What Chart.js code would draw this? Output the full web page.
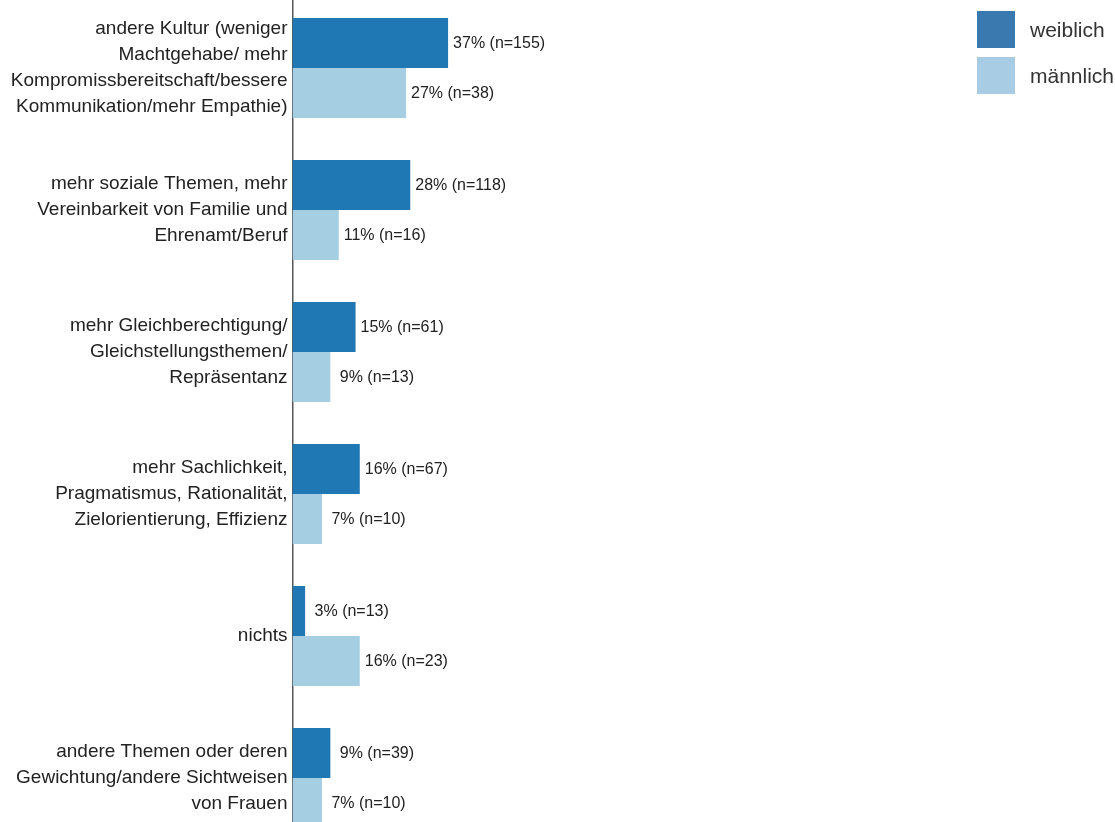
<!DOCTYPE html>
<html>
<head>
<meta charset="utf-8">
<script src="https://cdn.jsdelivr.net/npm/chart.js@4.4.1/dist/chart.umd.min.js"></script>
<style>
  html, body { margin: 0; padding: 0; background: #fff; overflow: hidden; width: 1115px; height: 822px; }
  #wrap { position: absolute; left: 0; top: -3px; width: 1115px; height: 852px; }
  .leg { position: absolute; left: 977px; width: 38px; height: 37px; }
  .legt { position: absolute; left: 1030px; font-family: "Liberation Sans", Arial, sans-serif; font-size: 21px; color: #333; line-height: 24px; }
</style>
</head>
<body>
<div id="wrap"><canvas id="c"></canvas></div>
<div class="leg" style="top:11px;background:#3a78b0"></div>
<div class="legt" style="top:18px">weiblich</div>
<div class="leg" style="top:57px;background:#a8cce3"></div>
<div class="legt" style="top:64px">männlich</div>
<script>
const categories = [
  ["andere Kultur (weniger", "Machtgehabe/ mehr", "Kompromissbereitschaft/bessere", "Kommunikation/mehr Empathie)"],
  ["mehr soziale Themen, mehr", "Vereinbarkeit von Familie und", "Ehrenamt/Beruf"],
  ["mehr Gleichberechtigung/", "Gleichstellungsthemen/", "Repräsentanz"],
  ["mehr Sachlichkeit,", "Pragmatismus, Rationalität,", "Zielorientierung, Effizienz"],
  ["nichts"],
  ["andere Themen oder deren", "Gewichtung/andere Sichtweisen", "von Frauen"]
];
const seriesNames = ["weiblich", "männlich"];
const weiblichPct = [37, 28, 15, 16, 3, 9];
const weiblichN = [155, 118, 61, 67, 13, 39];
const maennlichPct = [27, 11, 9, 7, 16, 7];
const maennlichN = [38, 16, 13, 10, 23, 10];

const nLists = [weiblichN, maennlichN];

const valueLabels = {
  id: 'valueLabels',
  afterDatasetsDraw(chart) {
    const ctx = chart.ctx;
    ctx.save();
    ctx.font = '16px "Liberation Sans", Arial, sans-serif';
    ctx.fillStyle = '#222';
    ctx.textAlign = 'left';
    ctx.textBaseline = 'middle';
    chart.data.datasets.forEach((ds, di) => {
      const meta = chart.getDatasetMeta(di);
      meta.data.forEach((bar, i) => {
        const v = ds.data[i];
        const txt = (v < 10 ? ' ' : '') + v + '% (n=' + nLists[di][i] + ')';
        ctx.fillText(txt, bar.x + 5, bar.y + 1);
      });
    });
    ctx.restore();
  }
};

new Chart(document.getElementById('c'), {
  type: 'bar',
  data: {
    labels: categories,
    datasets: [
      { label: seriesNames[0], data: weiblichPct, backgroundColor: '#1f77b4', categoryPercentage: 0.704, barPercentage: 1.0 },
      { label: seriesNames[1], data: maennlichPct, backgroundColor: '#a6cee3', categoryPercentage: 0.704, barPercentage: 1.0 }
    ]
  },
  options: {
    indexAxis: 'y',
    responsive: true,
    maintainAspectRatio: false,
    animation: false,
    layout: { padding: { left: 0, right: 402, top: 0, bottom: 0 } },
    plugins: { legend: { display: false }, tooltip: { enabled: false } },
    scales: {
      x: { display: false, min: 0, max: 100 },
      y: {
        grid: { display: false, drawTicks: false, tickLength: 0 },
        border: { display: true, color: '#555', width: 1.5 },
        ticks: {
          color: '#222',
          padding: 5,
          font: { family: '"Liberation Sans", Arial, sans-serif', size: 19, lineHeight: 1.37 }
        },
        afterFit(scale) { scale.width = 292.5; scale.paddingTop = 0; scale.paddingBottom = 0; }
      }
    }
  },
  plugins: [valueLabels]
});
</script>
</body>
</html>
